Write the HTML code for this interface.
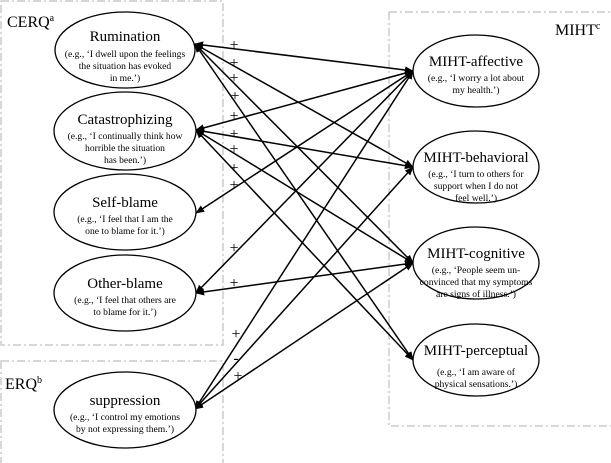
<!DOCTYPE html>
<html><head><style>body{margin:0;background:#fff}svg{display:block}text{font-family:"Liberation Serif",serif;fill:#000}</style></head><body>
<svg width="611" height="463" viewBox="0 0 611 463">
<defs><marker id="a" viewBox="0 0 10 10" refX="9" refY="5" markerWidth="6" markerHeight="6" orient="auto-start-reverse"><path d="M0,1L10,5L0,9z"/></marker></defs>
<g fill="none" stroke="#ccc" stroke-width="1.5" stroke-dasharray="8,3,2,3">
<rect x="1" y="1" width="222" height="344"/>
<rect x="1" y="361" width="222" height="110"/>
<rect x="389" y="12" width="230" height="414"/>
</g>
<g stroke="#000" stroke-width="1.5" marker-start="url(#a)" marker-end="url(#a)">
<line x1="195" y1="44" x2="413" y2="71"/>
<line x1="195" y1="44" x2="413" y2="167"/>
<line x1="195" y1="44" x2="413" y2="263"/>
<line x1="195" y1="44" x2="413" y2="360"/>
<line x1="196" y1="130" x2="413" y2="71"/>
<line x1="196" y1="130" x2="413" y2="167"/>
<line x1="196" y1="130" x2="413" y2="263"/>
<line x1="196" y1="130" x2="413" y2="360"/>
<line x1="196" y1="213" x2="413" y2="71"/>
<line x1="196" y1="293" x2="413" y2="71"/>
<line x1="196" y1="293" x2="413" y2="263"/>
<line x1="195" y1="409" x2="413" y2="71"/>
<line x1="195" y1="409" x2="413" y2="167"/>
<line x1="195" y1="409" x2="413" y2="263"/>
</g>
<g fill="#fff" stroke="#000" stroke-width="1.3">
<ellipse cx="125" cy="50" rx="70" ry="38"/>
<ellipse cx="125" cy="131" rx="71" ry="39"/>
<ellipse cx="125" cy="212" rx="71" ry="38"/>
<ellipse cx="125" cy="293" rx="71" ry="38"/>
<ellipse cx="125" cy="410" rx="71" ry="38"/>
<ellipse cx="476" cy="71" rx="63" ry="36"/>
<ellipse cx="476" cy="167" rx="63" ry="36"/>
<ellipse cx="476" cy="263" rx="63" ry="36"/>
<ellipse cx="476" cy="360" rx="63" ry="36"/>
</g>
<g font-size="16"><text x="7" y="27">CERQ<tspan font-size="10" dy="-6">a</tspan></text>
<text x="5" y="389">ERQ<tspan font-size="10" dy="-6">b</tspan></text>
<text x="555" y="35">MIHT<tspan font-size="10" dy="-6">c</tspan></text></g>
<g text-anchor="middle" font-size="15">
<text x="125" y="41">Rumination</text><text x="125" y="124">Catastrophizing</text><text x="125" y="207">Self-blame</text><text x="125" y="288">Other-blame</text><text x="125" y="405">suppression</text>
<text x="476" y="66">MIHT-affective</text><text x="476" y="162">MIHT-behavioral</text><text x="476" y="258">MIHT-cognitive</text><text x="476" y="355">MIHT-perceptual</text>
</g>
<g text-anchor="middle" font-size="9.6">
<text x="125" y="57">(e.g., ‘I dwell upon the feelings</text><text x="125" y="69">the situation has evoked</text><text x="125" y="81">in me.’)</text>
<text x="125" y="139">(e.g., ‘I continually think how</text><text x="125" y="151">horrible the situation</text><text x="125" y="163">has been.’)</text>
<text x="125" y="222">(e.g., ‘I feel that I am the</text><text x="125" y="234">one to blame for it.’)</text>
<text x="125" y="303">(e.g., ‘I feel that others are</text><text x="125" y="315">to blame for it.’)</text>
<text x="125" y="420">(e.g., ‘I control my emotions</text><text x="125" y="432">by not expressing them.’)</text>
<text x="476" y="81">(e.g., ‘I worry a lot about</text><text x="476" y="93">my health.’)</text>
<text x="476" y="177">(e.g., ‘I turn to others for</text><text x="476" y="189">support when I do not</text><text x="476" y="201">feel well.’)</text>
<text x="476" y="273">(e.g., ‘People seem un-</text><text x="476" y="285">convinced that my symptoms</text><text x="476" y="297">are signs of illness.’)</text>
<text x="476" y="375">(e.g., ‘I am aware of</text><text x="476" y="387">physical sensations.’)</text>
</g>
<g font-size="16" text-anchor="middle">
<text x="234" y="50">+</text><text x="234" y="68">+</text><text x="234" y="83">+</text><text x="235" y="101">+</text><text x="234" y="121">+</text><text x="234" y="139">+</text><text x="234" y="154">+</text><text x="234" y="173">+</text><text x="234" y="190">+</text>
<text x="234" y="253">+</text><text x="234" y="288">+</text><text x="236" y="339">+</text><text x="236" y="363">-</text><text x="238" y="381">+</text>
</g>
</svg>
</body></html>
